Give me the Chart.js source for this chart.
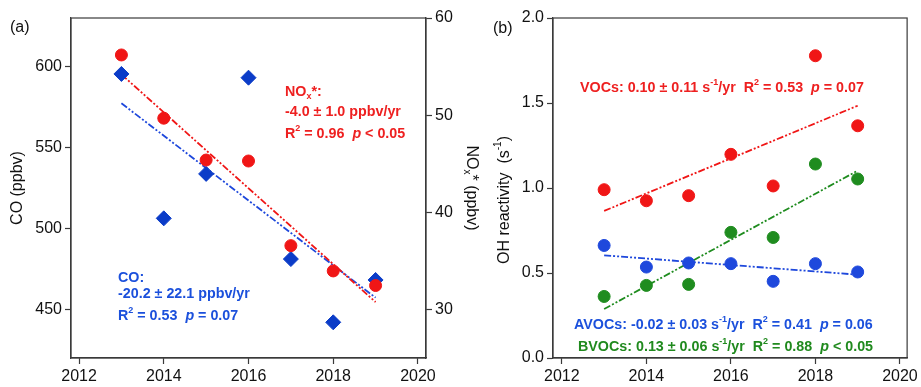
<!DOCTYPE html>
<html>
<head>
<meta charset="utf-8">
<script src="https://cdn.jsdelivr.net/npm/chart.js@4.4.1/dist/chart.umd.min.js"></script>
<style>
  html, body { margin: 0; padding: 0; background: #fff; }
  #wrap { position: relative; width: 921px; height: 387px; overflow: hidden; background: #fff; }
  canvas { position: absolute; top: 0; }
  #chartA { left: 0; width: 500px; height: 387px; }
  #chartB { left: 470px; width: 451px; height: 387px; }
</style>
</head>
<body>
<div id="wrap">
  <canvas id="chartA" width="500" height="387"></canvas>
  <canvas id="chartB" width="451" height="387"></canvas>
</div>
<script>
// ---- data ----
const years = [2013, 2014, 2015, 2016, 2017, 2018, 2019];
const trendYears = [2013, 2019];
const yearTicks = [2012, 2014, 2016, 2018, 2020];

// panel (a)
const coValues = [595.5, 506.5, 533.9, 593.2, 481.4, 442.4, 468.5];
const noxValues = [56.2, 49.7, 45.4, 45.3, 36.6, 34.0, 32.5];
const coTrend = [577.4, 457.6];
const noxTrend = [54.2, 30.8];
const coTicks = [450, 500, 550, 600];
const noxTicks = [30, 40, 50, 60];

// panel (b)
const vocValues = [0.99, 0.925, 0.955, 1.198, 1.012, 1.778, 1.366];
const avocValues = [0.662, 0.535, 0.559, 0.555, 0.451, 0.555, 0.506];
const bvocValues = [0.362, 0.427, 0.433, 0.739, 0.709, 1.141, 1.053];
const vocTrend = [0.865, 1.484];
const avocTrend = [0.604, 0.49];
const bvocTrend = [0.288, 1.102];
const ohTicks = [0, 0.5, 1.0, 1.5, 2.0];

// ---- styling ----
const FONT = '"Liberation Sans", Arial, sans-serif';
const AXIS = '#3a3a3a';
const RED = '#f01616';
const BLUE_DIAMOND = '#0b3cc8';
const BLUE = '#1e48dc';
const GREEN = '#1f8c1f';
const RED_TXT = '#ee2020';
const BLUE_TXT = '#1b50dc';
const GREEN_TXT = '#208a1e';
const DASH = [7, 2, 2, 2, 2, 2];

Chart.defaults.font.family = FONT;
Chart.defaults.animation = false;

const pts = (xs, ys) => xs.map((x, i) => ({ x: x, y: ys[i] }));

// draw text made of pieces: '' normal, 'sub', 'sup', 'i' (italic)
function drawRich(ctx, parts, x, y, o) {
  const size = o.size;
  const weight = o.bold ? 'bold ' : '';
  const fontFor = s => {
    if (s === 'sub' || s === 'sup') return weight + Math.round(size * 0.64) + 'px ' + FONT;
    if (s === 'i') return 'italic ' + weight + size + 'px ' + FONT;
    return weight + size + 'px ' + FONT;
  };
  let total = 0;
  parts.forEach(([t, s]) => { ctx.font = fontFor(s); total += ctx.measureText(t).width; });
  ctx.save();
  ctx.translate(x, y);
  if (o.rotate) ctx.rotate(o.rotate);
  ctx.fillStyle = o.color;
  ctx.textBaseline = 'alphabetic';
  ctx.textAlign = 'left';
  let cx = o.center ? -total / 2 : 0;
  const base = size * 0.358;
  parts.forEach(([t, s]) => {
    ctx.font = fontFor(s);
    let dy = base;
    if (s === 'sup') dy -= size * 0.5;
    if (s === 'sub') dy += size * 0.22;
    ctx.fillText(t, cx, dy);
    cx += ctx.measureText(t).width;
  });
  ctx.restore();
}

// frame + annotation text
function panelPlugin(texts) {
  return {
    id: 'panelExtras',
    beforeDatasetsDraw(chart) {
      const { ctx, chartArea: a } = chart;
      ctx.save();
      ctx.strokeStyle = AXIS;
      ctx.lineWidth = 1.2;
      ctx.strokeRect(a.left, a.top, a.right - a.left, a.bottom - a.top);
      ctx.restore();
    },
    afterDraw(chart) {
      texts.forEach(t => drawRich(chart.ctx, t.parts, t.x, t.y, t));
    }
  };
}

function xScale(xMin, xMax) {
  return {
    type: 'linear', position: 'bottom', min: xMin, max: xMax,
    afterBuildTicks: s => { s.ticks = yearTicks.map(v => ({ value: v })); },
    afterFit: s => { s.height = 29; },
    grid: { drawOnChartArea: false, drawTicks: true, tickLength: 6, tickColor: AXIS, tickWidth: 1.2 },
    border: { color: AXIS, width: 1.2 },
    ticks: { font: { size: 16 }, color: '#111', padding: 3, maxRotation: 0, callback: v => String(v) }
  };
}

function yScale(pos, min, max, tickVals, width, fmt) {
  return {
    type: 'linear', position: pos, min: min, max: max,
    afterBuildTicks: s => { s.ticks = tickVals.map(v => ({ value: v })); },
    afterFit: s => { s.width = width; },
    grid: { drawOnChartArea: false, drawTicks: true, tickLength: 6, tickColor: AXIS, tickWidth: 1.2 },
    border: { color: AXIS, width: 1.2 },
    ticks: { font: { size: 16 }, color: '#111', padding: 3, callback: fmt }
  };
}

function trendSet(ys, color) {
  return {
    data: pts(trendYears, ys), showLine: true, borderColor: color, borderWidth: 1.8,
    borderDash: DASH, pointRadius: 0, fill: false
  };
}

function pointSet(ys, color, style, r) {
  return {
    data: pts(years, ys), showLine: false, pointStyle: style, pointRadius: r,
    backgroundColor: color, borderColor: color, borderWidth: 1
  };
}

// ---- panel (a) ----
const textsA = [
  { parts: [['(a)', '']], x: 10, y: 26, size: 16, color: '#111' },
  { parts: [['NO', ''], ['x', 'sub'], ['*:', '']], x: 285, y: 91, size: 14.3, bold: true, color: RED_TXT },
  { parts: [['-4.0 \u00b1 1.0 ppbv/yr', '']], x: 285, y: 111, size: 14.3, bold: true, color: RED_TXT },
  { parts: [['R', ''], ['2', 'sup'], [' = 0.96  ', ''], ['p', 'i'], [' < 0.05', '']], x: 285, y: 133, size: 14.3, bold: true, color: RED_TXT },
  { parts: [['CO:', '']], x: 118, y: 277, size: 14.3, bold: true, color: BLUE_TXT },
  { parts: [['-20.2 \u00b1 22.1 ppbv/yr', '']], x: 118, y: 293, size: 14.3, bold: true, color: BLUE_TXT },
  { parts: [['R', ''], ['2', 'sup'], [' = 0.53  ', ''], ['p', 'i'], [' = 0.07', '']], x: 118, y: 315, size: 14.3, bold: true, color: BLUE_TXT },
  { parts: [['NO', ''], ['x', 'sub'], ['* (ppbv)', '']], x: 473, y: 188, size: 16, color: '#111', rotate: Math.PI / 2, center: true }
];

new Chart(document.getElementById('chartA'), {
  type: 'scatter',
  data: {
    datasets: [
      Object.assign(pointSet(noxValues, RED, 'circle', 6), { yAxisID: 'y2' }),
      Object.assign(pointSet(coValues, BLUE_DIAMOND, 'rectRot', 7.5), { yAxisID: 'y' }),
      Object.assign(trendSet(noxTrend, RED), { yAxisID: 'y2' }),
      Object.assign(trendSet(coTrend, BLUE), { yAxisID: 'y' })
    ]
  },
  options: {
    responsive: false,
    devicePixelRatio: 1,
    layout: { padding: { top: 18, left: 0, right: 0, bottom: 0 } },
    plugins: { legend: { display: false }, tooltip: { enabled: false } },
    scales: {
      x: xScale(2011.81, 2020.19),
      y: Object.assign(yScale('left', 420.4, 630, coTicks, 71, v => String(v)), {
        title: { display: true, text: 'CO (ppbv)', font: { size: 16 }, color: '#111', padding: { top: 8, bottom: 0 } }
      }),
      y2: yScale('right', 25.05, 60, noxTicks, 74, v => String(v))
    }
  },
  plugins: [panelPlugin(textsA)]
});

// ---- panel (b) ----
const textsB = [
  { parts: [['(b)', '']], x: 23, y: 27, size: 16, color: '#111' },
  { parts: [['VOCs: 0.10 \u00b1 0.11 s', ''], ['-1', 'sup'], ['/yr  R', ''], ['2', 'sup'], [' = 0.53  ', ''], ['p', 'i'], [' = 0.07', '']],
    x: 110, y: 87, size: 14.3, bold: true, color: RED_TXT },
  { parts: [['AVOCs: -0.02 \u00b1 0.03 s', ''], ['-1', 'sup'], ['/yr  R', ''], ['2', 'sup'], [' = 0.41  ', ''], ['p', 'i'], [' = 0.06', '']],
    x: 104, y: 324, size: 14.3, bold: true, color: BLUE_TXT },
  { parts: [['BVOCs: 0.13 \u00b1 0.06 s', ''], ['-1', 'sup'], ['/yr  R', ''], ['2', 'sup'], [' = 0.88  ', ''], ['p', 'i'], [' < 0.05', '']],
    x: 108, y: 346, size: 14.3, bold: true, color: GREEN_TXT },
  { parts: [['OH reactivity  (s', ''], ['-1', 'sup'], [')', '']], x: 33, y: 200, size: 16, color: '#111', rotate: -Math.PI / 2, center: true }
];

new Chart(document.getElementById('chartB'), {
  type: 'scatter',
  data: {
    datasets: [
      pointSet(vocValues, RED, 'circle', 6),
      pointSet(avocValues, BLUE, 'circle', 6),
      pointSet(bvocValues, GREEN, 'circle', 6),
      trendSet(vocTrend, RED),
      trendSet(avocTrend, BLUE),
      trendSet(bvocTrend, GREEN)
    ]
  },
  options: {
    responsive: false,
    devicePixelRatio: 1,
    layout: { padding: { top: 18, left: 0, right: 13, bottom: 0 } },
    plugins: { legend: { display: false }, tooltip: { enabled: false } },
    scales: {
      x: xScale(2011.79, 2020.17),
      y: yScale('left', 0, 2.0, ohTicks, 83, v => v.toFixed(1))
    }
  },
  plugins: [panelPlugin(textsB)]
});
</script>
</body>
</html>
